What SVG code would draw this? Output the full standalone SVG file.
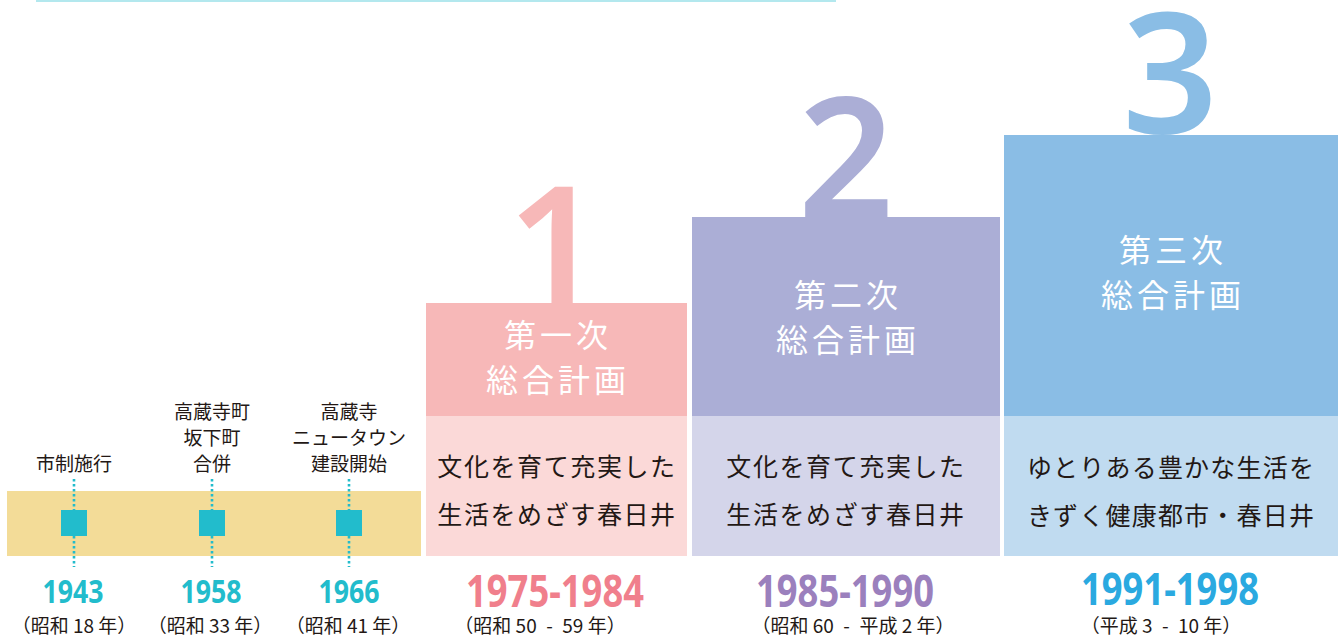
<svg xmlns="http://www.w3.org/2000/svg" width="1344" height="635" viewBox="0 0 1344 635">
<style>
.jp{font-family:"Noto Sans CJK JP","Noto Sans",sans-serif;}
.lbl{font-size:19px;fill:#231815;text-anchor:middle;}
.sub{font-size:19px;fill:#231815;text-anchor:middle;}
.title{font-size:32px;fill:#ffffff;text-anchor:middle;letter-spacing:4px;}
.body{font-size:25px;fill:#231815;text-anchor:middle;letter-spacing:1.6px;}
.yr{font-family:"Noto Sans","Open Sans",sans-serif;font-weight:700;text-anchor:middle;}
.big{font-family:"Noto Sans","Open Sans",sans-serif;font-weight:600;font-size:168px;text-anchor:middle;}
.dot{stroke:#22bccc;stroke-width:2.6;stroke-dasharray:2.5 2.5;fill:none;}
.sq{fill:#22bccc;}
</style>
<defs>
<clipPath id="c1"><rect x="426" y="0" width="261" height="303"/></clipPath>
<clipPath id="c2"><rect x="692" y="0" width="308" height="217"/></clipPath>
<clipPath id="c3"><rect x="1004" y="0" width="334" height="135"/></clipPath>
</defs>
<rect x="36" y="0" width="800" height="2" fill="#b3e8ee"/>
<rect x="7" y="491" width="414" height="65" fill="#f3dc98"/>
<g id="connectors">
<line class="dot" x1="74" y1="479" x2="74" y2="510"/>
<line class="dot" x1="74" y1="536" x2="74" y2="567"/>
<line class="dot" x1="212" y1="479" x2="212" y2="510"/>
<line class="dot" x1="212" y1="536" x2="212" y2="567"/>
<line class="dot" x1="349" y1="479" x2="349" y2="510"/>
<line class="dot" x1="349" y1="536" x2="349" y2="567"/>
</g>
<g id="event-1943">
<text class="jp lbl" x="74" y="471">市制施行</text>
<rect class="sq" x="61" y="510" width="26" height="26"/>
<text class="yr" x="73" y="603" font-size="32" fill="#22bccc" textLength="61" lengthAdjust="spacingAndGlyphs">1943</text>
<text class="jp sub" x="74" y="633">（昭和 18 年）</text>
</g>
<g id="event-1958">
<text class="jp lbl" x="212" y="419">高蔵寺町</text>
<text class="jp lbl" x="212" y="445">坂下町</text>
<text class="jp lbl" x="212" y="471">合併</text>
<rect class="sq" x="199" y="510" width="26" height="26"/>
<text class="yr" x="211" y="603" font-size="32" fill="#22bccc" textLength="61" lengthAdjust="spacingAndGlyphs">1958</text>
<text class="jp sub" x="210" y="633">（昭和 33 年）</text>
</g>
<g id="event-1966">
<text class="jp lbl" x="349" y="419">高蔵寺</text>
<text class="jp lbl" x="349" y="445">ニュータウン</text>
<text class="jp lbl" x="349" y="471">建設開始</text>
<rect class="sq" x="336" y="510" width="26" height="26"/>
<text class="yr" x="349" y="603" font-size="32" fill="#22bccc" textLength="61" lengthAdjust="spacingAndGlyphs">1966</text>
<text class="jp sub" x="348" y="633">（昭和 41 年）</text>
</g>
<g id="plan-1">
<text class="big" x="555" y="307" fill="#f7b8b8" clip-path="url(#c1)">1</text>
<rect x="426" y="303" width="261" height="113" fill="#f7b8b8"/>
<rect x="426" y="416" width="261" height="140" fill="#fbd9d8"/>
<text class="jp title" x="558" y="347">第一次</text>
<text class="jp title" x="558" y="392">総合計画</text>
<text class="jp body" x="557" y="476">文化を育て充実した</text>
<text class="jp body" x="557" y="524">生活をめざす春日井</text>
<text class="yr" x="555" y="607" font-size="45" fill="#f07f8c" textLength="178" lengthAdjust="spacingAndGlyphs">1975-1984</text>
<text class="jp sub" x="540" y="633">（昭和 50&#8194;-&#8194;59 年）</text>
</g>
<g id="plan-2">
<text class="big" x="846" y="218" fill="#abaed6" clip-path="url(#c2)">2</text>
<rect x="692" y="217" width="308" height="199" fill="#abaed6"/>
<rect x="692" y="416" width="308" height="140" fill="#d4d5ea"/>
<text class="jp title" x="848" y="307">第二次</text>
<text class="jp title" x="848" y="352">総合計画</text>
<text class="jp body" x="846" y="476">文化を育て充実した</text>
<text class="jp body" x="846" y="524">生活をめざす春日井</text>
<text class="yr" x="845" y="607" font-size="45" fill="#9b80bd" textLength="178" lengthAdjust="spacingAndGlyphs">1985-1990</text>
<text class="jp sub" x="853" y="633">（昭和 60&#8194;-&#8194;平成 2 年）</text>
</g>
<g id="plan-3">
<text class="big" x="1170" y="133" fill="#8abde5" clip-path="url(#c3)">3</text>
<rect x="1004" y="135" width="334" height="281" fill="#8abde5"/>
<rect x="1004" y="416" width="334" height="140" fill="#c0dbf0"/>
<text class="jp title" x="1173" y="262">第三次</text>
<text class="jp title" x="1173" y="307">総合計画</text>
<text class="jp body" x="1171" y="477" style="letter-spacing:1.2px">ゆとりある豊かな生活を</text>
<text class="jp body" x="1171" y="525" style="letter-spacing:1.2px">きずく健康都市・春日井</text>
<text class="yr" x="1170" y="605" font-size="44" fill="#2aa9e0" textLength="178" lengthAdjust="spacingAndGlyphs">1991-1998</text>
<text class="jp sub" x="1161" y="633">（平成 3&#8194;-&#8194;10 年）</text>
</g>
</svg>
